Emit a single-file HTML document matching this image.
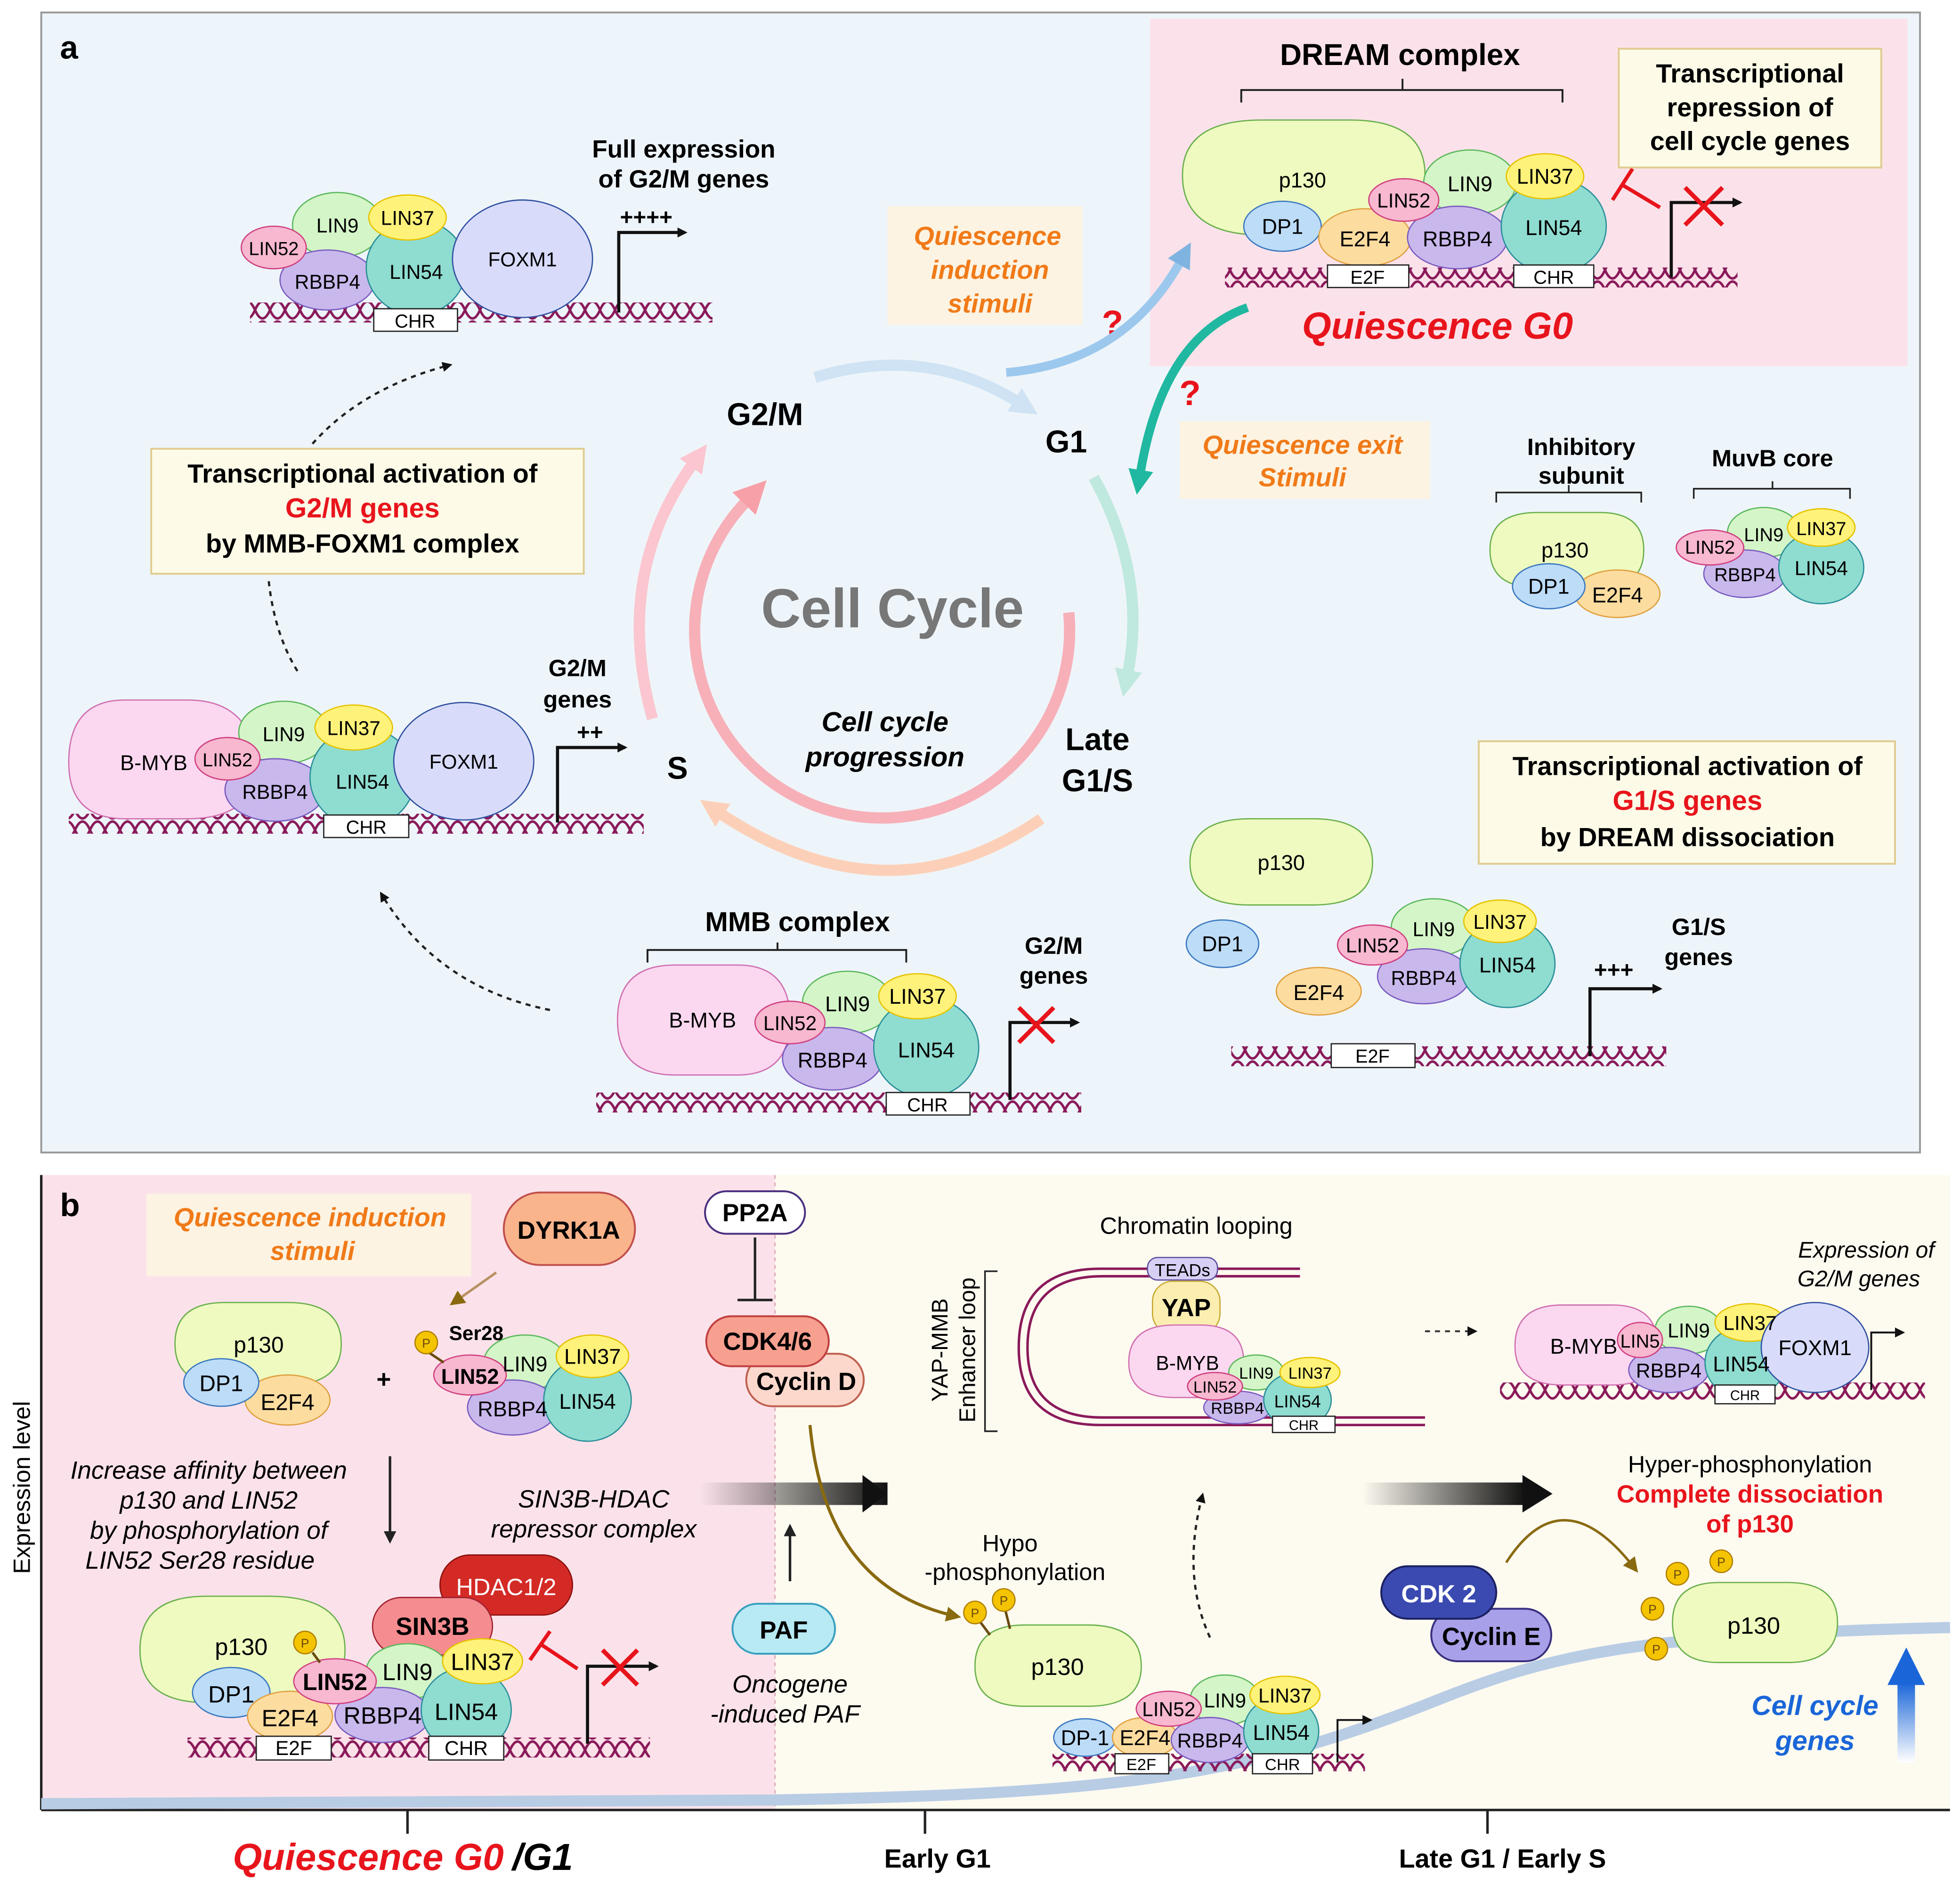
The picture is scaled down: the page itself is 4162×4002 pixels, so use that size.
<!DOCTYPE html>
<html><head><meta charset="utf-8">
<style>
html,body{margin:0;padding:0;background:#fff;}
svg{display:block;}
text{font-family:"Liberation Sans",Arial,sans-serif;}
</style></head>
<body>
<svg width="4162" height="4002" viewBox="0 0 1568 1508" xmlns="http://www.w3.org/2000/svg" preserveAspectRatio="none">
<defs>
<marker id="ah" markerWidth="8" markerHeight="8" refX="6" refY="4" orient="auto" markerUnits="userSpaceOnUse"><path d="M0,0 L8,4 L0,8 z" fill="#111"/></marker>
<marker id="ahs" markerWidth="10" markerHeight="10" refX="7" refY="5" orient="auto" markerUnits="userSpaceOnUse"><path d="M0,0 L10,5 L0,10 z" fill="#222"/></marker>
<marker id="ahb" markerWidth="20" markerHeight="20" refX="4" refY="10" orient="auto" markerUnits="userSpaceOnUse"><path d="M0,0 L20,10 L0,20 z" fill="#7fb3e0"/></marker>
<marker id="aht" markerWidth="20" markerHeight="20" refX="4" refY="10" orient="auto" markerUnits="userSpaceOnUse"><path d="M0,0 L20,10 L0,20 z" fill="#20b8a0"/></marker>
<marker id="ahbr" markerWidth="12" markerHeight="12" refX="8" refY="6" orient="auto" markerUnits="userSpaceOnUse"><path d="M0,0 L12,6 L0,12 z" fill="#8a6a10"/></marker>
<marker id="ahc1" markerWidth="22" markerHeight="22" refX="4" refY="11" orient="auto" markerUnits="userSpaceOnUse"><path d="M0,0 L22,11 L0,22 z" fill="#cfe3f4"/></marker>
<marker id="ahc2" markerWidth="22" markerHeight="22" refX="4" refY="11" orient="auto" markerUnits="userSpaceOnUse"><path d="M0,0 L22,11 L0,22 z" fill="#bfe8df"/></marker>
<marker id="ahc3" markerWidth="22" markerHeight="22" refX="4" refY="11" orient="auto" markerUnits="userSpaceOnUse"><path d="M0,0 L22,11 L0,22 z" fill="#fcd0b8"/></marker>
<marker id="ahc4" markerWidth="22" markerHeight="22" refX="4" refY="11" orient="auto" markerUnits="userSpaceOnUse"><path d="M0,0 L22,11 L0,22 z" fill="#fbc6cf"/></marker>
<marker id="ahc5" markerWidth="26" markerHeight="26" refX="4" refY="13" orient="auto" markerUnits="userSpaceOnUse"><path d="M0,0 L26,13 L0,26 z" fill="#f7a0a8"/></marker>
<linearGradient id="blk" x1="0" x2="1"><stop offset="0" stop-color="#111" stop-opacity="0"/><stop offset="1" stop-color="#111"/></linearGradient>
<linearGradient id="upb" x1="0" y1="1" x2="0" y2="0"><stop offset="0" stop-color="#fff"/><stop offset="1" stop-color="#1a66d8"/></linearGradient>
<pattern id="dna" width="24" height="16" patternUnits="userSpaceOnUse">
<path d="M0,8 C4,-1 8,-1 12,8 S20,17 24,8" fill="none" stroke="#8a1a5a" stroke-width="2"/>
<path d="M0,8 C4,17 8,17 12,8 S20,-1 24,8" fill="none" stroke="#8a1a5a" stroke-width="2"/>
</pattern>
</defs>

<!-- PANEL A -->
<rect x="33" y="10" width="1503" height="912" fill="#eef5fa" stroke="#999" stroke-width="1.5"/>
<rect x="920" y="15" width="606" height="278" fill="#fbe2ea"/>
<text x="48" y="47" font-size="26" font-weight="bold">a</text>

<rect x="200" y="242" width="370" height="16" fill="url(#dna)"/>
<ellipse cx="270" cy="180" rx="36" ry="26" fill="#d4f5c8" stroke="#5cb85c"/>
<ellipse cx="262" cy="224" rx="38" ry="24" fill="#c9b8ec" stroke="#7a5cc0"/>
<ellipse cx="219" cy="198" rx="26" ry="17" fill="#f7b8d0" stroke="#d04080"/>
<ellipse cx="333" cy="214" rx="40" ry="38" fill="#8fdcd0" stroke="#2a8f9a"/>
<ellipse cx="326" cy="174" rx="31" ry="18" fill="#fff27a" stroke="#e6c200"/>
<ellipse cx="418" cy="207" rx="56" ry="47" fill="#d8dcfa" stroke="#3050a0"/>
<text x="270" y="186" font-size="16" text-anchor="middle">LIN9</text>
<text x="262" y="231" font-size="16" text-anchor="middle">RBBP4</text>
<text x="219" y="204" font-size="15" text-anchor="middle">LIN52</text>
<text x="333" y="223" font-size="16" text-anchor="middle">LIN54</text>
<text x="326" y="180" font-size="16" text-anchor="middle">LIN37</text>
<text x="418" y="213" font-size="16" text-anchor="middle">FOXM1</text>
<rect x="299" y="247" width="67" height="18" fill="#fff" stroke="#222"/>
<text x="332" y="262" font-size="15" text-anchor="middle">CHR</text>
<path d="M495,250 V186 H548" fill="none" stroke="#111" stroke-width="2.5" marker-end="url(#ah)"/>
<text x="517" y="180" font-size="18" font-weight="bold" text-anchor="middle">++++</text>
<text x="547" y="126" font-size="20" font-weight="bold" text-anchor="middle">Full expression</text>
<text x="547" y="150" font-size="20" font-weight="bold" text-anchor="middle">of G2/M genes</text>

<path d="M250,355 Q290,310 360,292" fill="none" stroke="#222" stroke-width="1.8" stroke-dasharray="4,4" marker-end="url(#ah)"/>
<rect x="121" y="359" width="346" height="100" fill="#fdfbe8" stroke="#e0cc90" stroke-width="1.5"/>
<text x="290" y="386" font-size="21" font-weight="bold" text-anchor="middle">Transcriptional activation of</text>
<text x="290" y="414" font-size="22" font-weight="bold" text-anchor="middle" fill="#e8141c">G2/M genes</text>
<text x="290" y="442" font-size="21" font-weight="bold" text-anchor="middle">by MMB-FOXM1 complex</text>
<path d="M215,465 Q220,510 240,540" fill="none" stroke="#222" stroke-width="1.8" stroke-dasharray="4,4"/>

<rect x="55" y="651" width="460" height="16" fill="url(#dna)"/>
<path d="M100,560 H150 Q200,560 205,610 Q205,655 150,655 H100 Q55,655 55,610 Q55,560 100,560 z" fill="#fbd8f0" stroke="#d070b0"/>
<text x="123" y="616" font-size="17" text-anchor="middle">B-MYB</text>
<ellipse cx="227" cy="586" rx="36" ry="25" fill="#d4f5c8" stroke="#5cb85c"/>
<ellipse cx="220" cy="632" rx="40" ry="25" fill="#c9b8ec" stroke="#7a5cc0"/>
<ellipse cx="182" cy="607" rx="26" ry="17" fill="#f7b8d0" stroke="#d04080"/>
<ellipse cx="290" cy="622" rx="42" ry="40" fill="#8fdcd0" stroke="#2a8f9a"/>
<ellipse cx="283" cy="582" rx="31" ry="18" fill="#fff27a" stroke="#e6c200"/>
<ellipse cx="371" cy="609" rx="56" ry="47" fill="#d8dcfa" stroke="#3050a0"/>
<text x="227" y="593" font-size="16" text-anchor="middle">LIN9</text>
<text x="220" y="639" font-size="16" text-anchor="middle">RBBP4</text>
<text x="182" y="613" font-size="15" text-anchor="middle">LIN52</text>
<text x="290" y="631" font-size="16" text-anchor="middle">LIN54</text>
<text x="283" y="588" font-size="16" text-anchor="middle">LIN37</text>
<text x="371" y="615" font-size="16" text-anchor="middle">FOXM1</text>
<rect x="259" y="652" width="68" height="18" fill="#fff" stroke="#222"/>
<text x="293" y="667" font-size="15" text-anchor="middle">CHR</text>
<path d="M446,658 V598 H500" fill="none" stroke="#111" stroke-width="2.5" marker-end="url(#ah)"/>
<text x="472" y="592" font-size="18" font-weight="bold" text-anchor="middle">++</text>
<text x="462" y="541" font-size="19" font-weight="bold" text-anchor="middle">G2/M</text>
<text x="462" y="566" font-size="19" font-weight="bold" text-anchor="middle">genes</text>

<path d="M440,808 Q350,790 305,715" fill="none" stroke="#222" stroke-width="1.8" stroke-dasharray="4,4" marker-end="url(#ah)"/>

<path d="M652,302 Q740,275 815,322" fill="none" stroke="#cfe3f4" stroke-width="9" marker-end="url(#ahc1)"/>
<path d="M875,382 Q918,460 902,540" fill="none" stroke="#bfe8df" stroke-width="9" marker-end="url(#ahc2)"/>
<path d="M833,655 Q710,740 575,650" fill="none" stroke="#fcd0b8" stroke-width="9" marker-end="url(#ahc3)"/>
<path d="M522,575 Q490,460 555,370" fill="none" stroke="#fbc6cf" stroke-width="9" marker-end="url(#ahc4)"/>
<path d="M855,490 A150,150 0 1 1 598,400" fill="none" stroke="#f7b0b8" stroke-width="9" marker-end="url(#ahc5)"/>
<text x="714" y="502" font-size="44" font-weight="bold" fill="#777" text-anchor="middle">Cell Cycle</text>
<text x="708" y="585" font-size="22" font-weight="bold" font-style="italic" text-anchor="middle">Cell cycle</text>
<text x="708" y="613" font-size="22" font-weight="bold" font-style="italic" text-anchor="middle">progression</text>
<text x="612" y="340" font-size="25" font-weight="bold" text-anchor="middle">G2/M</text>
<text x="853" y="362" font-size="25" font-weight="bold" text-anchor="middle">G1</text>
<text x="878" y="600" font-size="25" font-weight="bold" text-anchor="middle">Late</text>
<text x="878" y="633" font-size="25" font-weight="bold" text-anchor="middle">G1/S</text>
<text x="542" y="623" font-size="25" font-weight="bold" text-anchor="middle">S</text>

<rect x="710" y="165" width="156" height="95" fill="#fdf3e2"/>
<text x="790" y="196" font-size="21" font-weight="bold" font-style="italic" fill="#f07a18" text-anchor="middle">Quiescence</text>
<text x="792" y="223" font-size="21" font-weight="bold" font-style="italic" fill="#f07a18" text-anchor="middle">induction</text>
<text x="792" y="250" font-size="21" font-weight="bold" font-style="italic" fill="#f07a18" text-anchor="middle">stimuli</text>
<text x="890" y="268" font-size="28" font-weight="bold" fill="#e8141c" text-anchor="middle">?</text>
<path d="M805,298 Q900,290 945,208" fill="none" stroke="#9cc8ee" stroke-width="7" marker-end="url(#ahb)"/>
<path d="M998,246 Q930,270 912,380" fill="none" stroke="#20b8a0" stroke-width="7" marker-end="url(#aht)"/>
<text x="952" y="324" font-size="28" font-weight="bold" fill="#e8141c" text-anchor="middle">?</text>
<rect x="944" y="337" width="200" height="62" fill="#fdf3e2"/>
<text x="1042" y="363" font-size="21" font-weight="bold" font-style="italic" fill="#f07a18" text-anchor="middle">Quiescence exit</text>
<text x="1042" y="389" font-size="21" font-weight="bold" font-style="italic" fill="#f07a18" text-anchor="middle">Stimuli</text>

<text x="1120" y="52" font-size="24" font-weight="bold" text-anchor="middle">DREAM complex</text>
<path d="M993,82 V72 H1250 V82 M1122,72 V63" fill="none" stroke="#222" stroke-width="1.5"/>
<rect x="980" y="214" width="410" height="16" fill="url(#dna)"/>
<path d="M1010,96 H1080 Q1140,96 1140,140 Q1140,188 1080,188 H1010 Q946,188 946,140 Q946,96 1010,96 z" fill="#eefac0" stroke="#6ab04c"/>
<text x="1042" y="150" font-size="17" text-anchor="middle">p130</text>
<ellipse cx="1026" cy="181" rx="31" ry="20" fill="#bcdcf8" stroke="#3a78c0"/>
<text x="1026" y="187" font-size="17" text-anchor="middle">DP1</text>
<ellipse cx="1092" cy="190" rx="37" ry="23" fill="#fddca0" stroke="#e0a040"/>
<text x="1092" y="197" font-size="17" text-anchor="middle">E2F4</text>
<ellipse cx="1176" cy="146" rx="37" ry="26" fill="#d4f5c8" stroke="#5cb85c"/>
<ellipse cx="1166" cy="190" rx="40" ry="25" fill="#c9b8ec" stroke="#7a5cc0"/>
<ellipse cx="1123" cy="160" rx="28" ry="17" fill="#f7b8d0" stroke="#d04080"/>
<ellipse cx="1243" cy="181" rx="42" ry="38" fill="#8fdcd0" stroke="#2a8f9a"/>
<ellipse cx="1236" cy="141" rx="31" ry="18" fill="#fff27a" stroke="#e6c200"/>
<text x="1176" y="153" font-size="17" text-anchor="middle">LIN9</text>
<text x="1166" y="197" font-size="17" text-anchor="middle">RBBP4</text>
<text x="1123" y="166" font-size="16" text-anchor="middle">LIN52</text>
<text x="1243" y="188" font-size="17" text-anchor="middle">LIN54</text>
<text x="1236" y="147" font-size="17" text-anchor="middle">LIN37</text>
<rect x="1062" y="212" width="65" height="18" fill="#fff" stroke="#222"/>
<text x="1094" y="227" font-size="15" text-anchor="middle">E2F</text>
<rect x="1211" y="212" width="64" height="18" fill="#fff" stroke="#222"/>
<text x="1243" y="227" font-size="15" text-anchor="middle">CHR</text>
<path d="M1337,222 V162 H1392" fill="none" stroke="#111" stroke-width="2.5" marker-end="url(#ah)"/>
<path d="M1298,148 L1328,166 M1290,160 L1306,135" fill="none" stroke="#e8141c" stroke-width="3"/>
<path d="M1348,150 L1378,180 M1378,150 L1348,180" stroke="#e8141c" stroke-width="3.5"/>
<rect x="1295" y="39" width="210" height="95" fill="#fdfbe8" stroke="#e0cc90" stroke-width="1.5"/>
<text x="1400" y="66" font-size="21" font-weight="bold" text-anchor="middle">Transcriptional</text>
<text x="1400" y="93" font-size="21" font-weight="bold" text-anchor="middle">repression of</text>
<text x="1400" y="120" font-size="21" font-weight="bold" text-anchor="middle">cell cycle genes</text>
<text x="1150" y="271" font-size="30" font-weight="bold" font-style="italic" fill="#e8141c" text-anchor="middle">Quiescence G0</text>

<text x="1265" y="364" font-size="19" font-weight="bold" text-anchor="middle">Inhibitory</text>
<text x="1265" y="387" font-size="19" font-weight="bold" text-anchor="middle">subunit</text>
<path d="M1197,402 V394 H1313 V402 M1255,394 V388" fill="none" stroke="#222" stroke-width="1.3"/>
<path d="M1230,410 H1280 Q1315,410 1315,440 Q1315,470 1280,470 H1230 Q1192,470 1192,440 Q1192,410 1230,410 z" fill="#eefac0" stroke="#6ab04c"/>
<text x="1252" y="446" font-size="17" text-anchor="middle">p130</text>
<ellipse cx="1294" cy="475" rx="34" ry="19" fill="#fddca0" stroke="#e0a040"/>
<text x="1294" y="482" font-size="17" text-anchor="middle">E2F4</text>
<ellipse cx="1239" cy="469" rx="29" ry="18" fill="#bcdcf8" stroke="#3a78c0"/>
<text x="1239" y="475" font-size="17" text-anchor="middle">DP1</text>
<text x="1418" y="373" font-size="19" font-weight="bold" text-anchor="middle">MuvB core</text>
<path d="M1355,399 V391 H1480 V399 M1418,391 V385" fill="none" stroke="#222" stroke-width="1.3"/>
<ellipse cx="1411" cy="426" rx="29" ry="20" fill="#d4f5c8" stroke="#5cb85c"/>
<ellipse cx="1396" cy="459" rx="33" ry="19" fill="#c9b8ec" stroke="#7a5cc0"/>
<ellipse cx="1368" cy="438" rx="27" ry="14" fill="#f7b8d0" stroke="#d04080"/>
<ellipse cx="1457" cy="454" rx="34" ry="29" fill="#8fdcd0" stroke="#2a8f9a"/>
<ellipse cx="1457" cy="422" rx="27" ry="15" fill="#fff27a" stroke="#e6c200"/>
<text x="1411" y="433" font-size="15" text-anchor="middle">LIN9</text>
<text x="1396" y="465" font-size="15" text-anchor="middle">RBBP4</text>
<text x="1368" y="443" font-size="15" text-anchor="middle">LIN52</text>
<text x="1457" y="460" font-size="16" text-anchor="middle">LIN54</text>
<text x="1457" y="428" font-size="15" text-anchor="middle">LIN37</text>

<rect x="1183" y="593" width="333" height="98" fill="#fdfbe8" stroke="#e0cc90" stroke-width="1.5"/>
<text x="1350" y="620" font-size="21" font-weight="bold" text-anchor="middle">Transcriptional activation of</text>
<text x="1350" y="648" font-size="22" font-weight="bold" text-anchor="middle" fill="#e8141c">G1/S genes</text>
<text x="1350" y="677" font-size="21" font-weight="bold" text-anchor="middle">by DREAM dissociation</text>

<path d="M1000,655 H1050 Q1098,655 1098,690 Q1098,724 1050,724 H1000 Q952,724 952,690 Q952,655 1000,655 z" fill="#eefac0" stroke="#6ab04c"/>
<text x="1025" y="696" font-size="17" text-anchor="middle">p130</text>
<ellipse cx="978" cy="755" rx="29" ry="19" fill="#bcdcf8" stroke="#3a78c0"/>
<text x="978" y="761" font-size="17" text-anchor="middle">DP1</text>
<ellipse cx="1055" cy="793" rx="34" ry="19" fill="#fddca0" stroke="#e0a040"/>
<text x="1055" y="800" font-size="17" text-anchor="middle">E2F4</text>
<rect x="985" y="837" width="348" height="16" fill="url(#dna)"/>
<ellipse cx="1147" cy="742" rx="34" ry="23" fill="#d4f5c8" stroke="#5cb85c"/>
<ellipse cx="1139" cy="781" rx="37" ry="22" fill="#c9b8ec" stroke="#7a5cc0"/>
<ellipse cx="1098" cy="756" rx="28" ry="16" fill="#f7b8d0" stroke="#d04080"/>
<ellipse cx="1206" cy="771" rx="38" ry="35" fill="#8fdcd0" stroke="#2a8f9a"/>
<ellipse cx="1200" cy="737" rx="29" ry="17" fill="#fff27a" stroke="#e6c200"/>
<text x="1147" y="749" font-size="16" text-anchor="middle">LIN9</text>
<text x="1139" y="788" font-size="16" text-anchor="middle">RBBP4</text>
<text x="1098" y="762" font-size="16" text-anchor="middle">LIN52</text>
<text x="1206" y="778" font-size="17" text-anchor="middle">LIN54</text>
<text x="1200" y="743" font-size="16" text-anchor="middle">LIN37</text>
<rect x="1065" y="835" width="67" height="19" fill="#fff" stroke="#222"/>
<text x="1098" y="850" font-size="15" text-anchor="middle">E2F</text>
<path d="M1272,845 V791 H1328" fill="none" stroke="#111" stroke-width="2.5" marker-end="url(#ah)"/>
<text x="1291" y="782" font-size="18" font-weight="bold" text-anchor="middle">+++</text>
<text x="1359" y="748" font-size="19" font-weight="bold" text-anchor="middle">G1/S</text>
<text x="1359" y="772" font-size="19" font-weight="bold" text-anchor="middle">genes</text>

<text x="638" y="745" font-size="22" font-weight="bold" text-anchor="middle">MMB complex</text>
<path d="M518,770 V760 H725 V770 M622,760 V754" fill="none" stroke="#222" stroke-width="1.5"/>
<rect x="477" y="874" width="388" height="16" fill="url(#dna)"/>
<path d="M540,772 H590 Q632,772 632,816 Q632,860 590,860 H540 Q494,860 494,816 Q494,772 540,772 z" fill="#fbd8f0" stroke="#d070b0"/>
<text x="562" y="822" font-size="17" text-anchor="middle">B-MYB</text>
<ellipse cx="678" cy="802" rx="36" ry="25" fill="#d4f5c8" stroke="#5cb85c"/>
<ellipse cx="666" cy="847" rx="40" ry="25" fill="#c9b8ec" stroke="#7a5cc0"/>
<ellipse cx="632" cy="818" rx="28" ry="17" fill="#f7b8d0" stroke="#d04080"/>
<ellipse cx="741" cy="838" rx="42" ry="40" fill="#8fdcd0" stroke="#2a8f9a"/>
<ellipse cx="734" cy="797" rx="31" ry="18" fill="#fff27a" stroke="#e6c200"/>
<text x="678" y="809" font-size="17" text-anchor="middle">LIN9</text>
<text x="666" y="854" font-size="17" text-anchor="middle">RBBP4</text>
<text x="632" y="824" font-size="16" text-anchor="middle">LIN52</text>
<text x="741" y="846" font-size="17" text-anchor="middle">LIN54</text>
<text x="734" y="803" font-size="17" text-anchor="middle">LIN37</text>
<rect x="709" y="874" width="67" height="18" fill="#fff" stroke="#222"/>
<text x="742" y="889" font-size="15" text-anchor="middle">CHR</text>
<path d="M808,880 V818 H862" fill="none" stroke="#111" stroke-width="2.5" marker-end="url(#ah)"/>
<path d="M815,806 L843,834 M843,806 L815,834" stroke="#e8141c" stroke-width="3.5"/>
<text x="843" y="763" font-size="19" font-weight="bold" text-anchor="middle">G2/M</text>
<text x="843" y="787" font-size="19" font-weight="bold" text-anchor="middle">genes</text>

<!-- PANEL B -->
<rect x="33" y="940" width="587" height="508" fill="#fbe2ea"/>
<rect x="620" y="940" width="940" height="508" fill="#fdfaf0"/>
<line x1="620" y1="940" x2="620" y2="1445" stroke="#d9a8b8" stroke-width="1" stroke-dasharray="3,3"/>
<line x1="33" y1="940" x2="33" y2="1448" stroke="#222" stroke-width="2"/>
<line x1="33" y1="1448" x2="1560" y2="1448" stroke="#222" stroke-width="2"/>
<path d="M33,1443 L620,1440 C900,1435 1000,1420 1150,1360 C1250,1320 1320,1308 1560,1302" fill="none" stroke="#b8cce4" stroke-width="9"/>
<line x1="326" y1="1448" x2="326" y2="1467" stroke="#222" stroke-width="2"/>
<line x1="740" y1="1448" x2="740" y2="1467" stroke="#222" stroke-width="2"/>
<line x1="1190" y1="1448" x2="1190" y2="1467" stroke="#222" stroke-width="2"/>
<text x="403" y="1496" font-size="30" font-weight="bold" font-style="italic" fill="#e8141c" text-anchor="end">Quiescence G0</text>
<text x="410" y="1496" font-size="30" font-weight="bold" font-style="italic">/G1</text>
<text x="750" y="1494" font-size="21" font-weight="bold" text-anchor="middle">Early G1</text>
<text x="1202" y="1494" font-size="21" font-weight="bold" text-anchor="middle">Late G1 / Early S</text>
<text x="24" y="1190" font-size="19" text-anchor="middle" transform="rotate(-90 24 1190)">Expression level</text>
<text x="48" y="973" font-size="26" font-weight="bold">b</text>

<rect x="117" y="955" width="260" height="66" fill="#fdf3e2"/>
<text x="248" y="981" font-size="21" font-weight="bold" font-style="italic" fill="#f07a18" text-anchor="middle">Quiescence induction</text>
<text x="250" y="1008" font-size="21" font-weight="bold" font-style="italic" fill="#f07a18" text-anchor="middle">stimuli</text>
<rect x="403" y="954" width="105" height="58" rx="29" fill="#f9b48c" stroke="#c0504d" stroke-width="1.5"/>
<text x="455" y="991" font-size="20" font-weight="bold" text-anchor="middle">DYRK1A</text>
<path d="M397,1018 L363,1042" stroke="#b89060" stroke-width="2" marker-end="url(#ahbr)"/>

<path d="M180,1042 H230 Q273,1042 273,1075 Q273,1108 230,1108 H180 Q140,1108 140,1075 Q140,1042 180,1042 z" fill="#eefac0" stroke="#6ab04c"/>
<text x="207" y="1082" font-size="18" text-anchor="middle">p130</text>
<ellipse cx="230" cy="1120" rx="34" ry="20" fill="#fddca0" stroke="#e0a040"/>
<text x="230" y="1128" font-size="18" text-anchor="middle">E2F4</text>
<ellipse cx="177" cy="1106" rx="30" ry="19" fill="#bcdcf8" stroke="#3a78c0"/>
<text x="177" y="1113" font-size="18" text-anchor="middle">DP1</text>
<text x="307" y="1110" font-size="20" font-weight="bold" text-anchor="middle">+</text>
<ellipse cx="420" cy="1090" rx="33" ry="22" fill="#d4f5c8" stroke="#5cb85c"/>
<ellipse cx="410" cy="1126" rx="36" ry="22" fill="#c9b8ec" stroke="#7a5cc0"/>
<ellipse cx="376" cy="1100" rx="29" ry="16" fill="#f7b8d0" stroke="#d04080"/>
<ellipse cx="470" cy="1120" rx="35" ry="33" fill="#8fdcd0" stroke="#2a8f9a"/>
<ellipse cx="474" cy="1085" rx="29" ry="17" fill="#fff27a" stroke="#e6c200"/>
<text x="420" y="1097" font-size="17" text-anchor="middle">LIN9</text>
<text x="410" y="1133" font-size="17" text-anchor="middle">RBBP4</text>
<text x="376" y="1107" font-size="17" font-weight="bold" text-anchor="middle">LIN52</text>
<text x="470" y="1127" font-size="17" text-anchor="middle">LIN54</text>
<text x="474" y="1091" font-size="17" text-anchor="middle">LIN37</text>
<line x1="343" y1="1082" x2="355" y2="1090" stroke="#6a4a10" stroke-width="2"/>
<circle cx="341" cy="1074" r="9" fill="#f5c400" stroke="#b08000"/>
<text x="341" y="1078" font-size="10" text-anchor="middle" fill="#6a4a10">P</text>
<text x="381" y="1072" font-size="16" font-weight="bold" text-anchor="middle">Ser28</text>

<text x="167" y="1183" font-size="20" font-style="italic" text-anchor="middle">Increase affinity between</text>
<text x="167" y="1207" font-size="20" font-style="italic" text-anchor="middle">p130 and LIN52</text>
<text x="167" y="1231" font-size="20" font-style="italic" text-anchor="middle">by phosphorylation of</text>
<text x="160" y="1255" font-size="20" font-style="italic" text-anchor="middle">LIN52 Ser28 residue</text>
<path d="M312,1165 V1232" stroke="#222" stroke-width="2" marker-end="url(#ahs)"/>
<text x="475" y="1206" font-size="20" font-style="italic" text-anchor="middle">SIN3B-HDAC</text>
<text x="475" y="1230" font-size="20" font-style="italic" text-anchor="middle">repressor complex</text>

<rect x="150" y="1390" width="370" height="16" fill="url(#dna)"/>
<path d="M165,1277 H215 Q276,1277 276,1320 Q276,1362 215,1362 H165 Q112,1362 112,1320 Q112,1277 165,1277 z" fill="#eefac0" stroke="#6ab04c"/>
<text x="193" y="1324" font-size="19" text-anchor="middle">p130</text>
<ellipse cx="185" cy="1354" rx="31" ry="20" fill="#bcdcf8" stroke="#3a78c0"/>
<text x="185" y="1362" font-size="19" text-anchor="middle">DP1</text>
<ellipse cx="232" cy="1373" rx="34" ry="20" fill="#fddca0" stroke="#e0a040"/>
<text x="232" y="1381" font-size="19" text-anchor="middle">E2F4</text>
<rect x="352" y="1244" width="106" height="48" rx="24" fill="#d42a26" stroke="#8a1010"/>
<text x="405" y="1276" font-size="19" fill="#fff" text-anchor="middle">HDAC1/2</text>
<rect x="298" y="1278" width="96" height="46" rx="23" fill="#f48c90" stroke="#a02030"/>
<text x="346" y="1308" font-size="20" font-weight="bold" text-anchor="middle">SIN3B</text>
<ellipse cx="326" cy="1337" rx="33" ry="22" fill="#d4f5c8" stroke="#5cb85c"/>
<ellipse cx="306" cy="1372" rx="38" ry="22" fill="#c9b8ec" stroke="#7a5cc0"/>
<ellipse cx="268" cy="1345" rx="33" ry="18" fill="#f7b8d0" stroke="#d04080"/>
<ellipse cx="373" cy="1368" rx="36" ry="34" fill="#8fdcd0" stroke="#2a8f9a"/>
<ellipse cx="386" cy="1329" rx="32" ry="18" fill="#fff27a" stroke="#e6c200"/>
<text x="326" y="1344" font-size="19" text-anchor="middle">LIN9</text>
<text x="306" y="1379" font-size="19" text-anchor="middle">RBBP4</text>
<text x="268" y="1352" font-size="19" font-weight="bold" text-anchor="middle">LIN52</text>
<text x="373" y="1376" font-size="19" text-anchor="middle">LIN54</text>
<text x="386" y="1336" font-size="19" text-anchor="middle">LIN37</text>
<circle cx="244" cy="1314" r="9" fill="#f5c400" stroke="#b08000"/>
<text x="244" y="1318" font-size="10" text-anchor="middle" fill="#6a4a10">P</text>
<line x1="250" y1="1322" x2="256" y2="1330" stroke="#6a4a10" stroke-width="2"/>
<rect x="205" y="1389" width="60" height="19" fill="#fff" stroke="#222"/>
<text x="235" y="1404" font-size="16" text-anchor="middle">E2F</text>
<rect x="343" y="1389" width="60" height="19" fill="#fff" stroke="#222"/>
<text x="373" y="1404" font-size="16" text-anchor="middle">CHR</text>
<path d="M470,1395 V1333 H525" fill="none" stroke="#111" stroke-width="2.5" marker-end="url(#ah)"/>
<path d="M432,1315 L462,1335 M424,1328 L440,1305" fill="none" stroke="#e8141c" stroke-width="3"/>
<path d="M482,1320 L510,1348 M510,1320 L482,1348" stroke="#e8141c" stroke-width="3.5"/>

<rect x="564" y="953" width="80" height="34" rx="17" fill="#fff" stroke="#4a3080" stroke-width="1.5"/>
<text x="604" y="977" font-size="20" font-weight="bold" text-anchor="middle">PP2A</text>
<path d="M604,990 V1040 M590,1040 H618" fill="none" stroke="#222" stroke-width="2"/>
<rect x="597" y="1083" width="94" height="42" rx="21" fill="#fcd8cc" stroke="#c06050" stroke-width="1.5"/>
<text x="645" y="1112" font-size="20" font-weight="bold" text-anchor="middle">Cyclin D</text>
<rect x="565" y="1053" width="98" height="40" rx="20" fill="#f7a090" stroke="#c04040" stroke-width="1.5"/>
<text x="614" y="1080" font-size="20" font-weight="bold" text-anchor="middle">CDK4/6</text>
<rect x="560" y="1186" width="150" height="18" fill="url(#blk)"/>
<path d="M690,1180 L710,1195 L690,1210 z" fill="#111"/>
<rect x="1090" y="1186" width="130" height="18" fill="url(#blk)"/>
<path d="M1218,1180 L1242,1195 L1218,1210 z" fill="#111"/>
<path d="M632,1265 V1222" stroke="#222" stroke-width="2" marker-end="url(#ahs)"/>
<rect x="586" y="1283" width="82" height="40" rx="20" fill="#b8eaf4" stroke="#3aa0c0" stroke-width="1.5"/>
<text x="627" y="1311" font-size="20" font-weight="bold" text-anchor="middle">PAF</text>
<text x="632" y="1354" font-size="20" font-style="italic" text-anchor="middle">Oncogene</text>
<text x="628" y="1378" font-size="20" font-style="italic" text-anchor="middle">-induced PAF</text>
<path d="M648,1140 Q660,1270 765,1293" fill="none" stroke="#8a6a10" stroke-width="2.5" marker-end="url(#ahbr)"/>

<text x="808" y="1241" font-size="19" text-anchor="middle">Hypo</text>
<text x="812" y="1264" font-size="19" text-anchor="middle">-phosphonylation</text>
<path d="M820,1300 H870 Q913,1300 913,1333 Q913,1365 870,1365 H820 Q780,1365 780,1333 Q780,1300 820,1300 z" fill="#eefac0" stroke="#6ab04c"/>
<text x="846" y="1340" font-size="19" text-anchor="middle">p130</text>
<line x1="783" y1="1296" x2="792" y2="1308" stroke="#6a4a10" stroke-width="2"/>
<line x1="804" y1="1287" x2="808" y2="1303" stroke="#6a4a10" stroke-width="2"/>
<circle cx="780" cy="1290" r="9" fill="#f5c400" stroke="#b08000"/>
<circle cx="803" cy="1280" r="9" fill="#f5c400" stroke="#b08000"/>
<text x="780" y="1294" font-size="10" text-anchor="middle" fill="#6a4a10">P</text>
<text x="803" y="1284" font-size="10" text-anchor="middle" fill="#6a4a10">P</text>
<rect x="842" y="1403" width="250" height="14" fill="url(#dna)"/>
<ellipse cx="868" cy="1390" rx="25" ry="15" fill="#bcdcf8" stroke="#3a78c0"/>
<text x="868" y="1396" font-size="17" text-anchor="middle">DP-1</text>
<ellipse cx="916" cy="1390" rx="26" ry="16" fill="#fddca0" stroke="#e0a040"/>
<text x="916" y="1396" font-size="17" text-anchor="middle">E2F4</text>
<ellipse cx="980" cy="1360" rx="28" ry="20" fill="#d4f5c8" stroke="#5cb85c"/>
<ellipse cx="968" cy="1392" rx="31" ry="18" fill="#c9b8ec" stroke="#7a5cc0"/>
<ellipse cx="935" cy="1367" rx="26" ry="14" fill="#f7b8d0" stroke="#d04080"/>
<ellipse cx="1025" cy="1385" rx="30" ry="28" fill="#8fdcd0" stroke="#2a8f9a"/>
<ellipse cx="1028" cy="1356" rx="28" ry="15" fill="#fff27a" stroke="#e6c200"/>
<text x="980" y="1366" font-size="16" text-anchor="middle">LIN9</text>
<text x="968" y="1398" font-size="16" text-anchor="middle">RBBP4</text>
<text x="935" y="1373" font-size="16" text-anchor="middle">LIN52</text>
<text x="1025" y="1392" font-size="17" text-anchor="middle">LIN54</text>
<text x="1028" y="1362" font-size="16" text-anchor="middle">LIN37</text>
<rect x="892" y="1403" width="43" height="16" fill="#fff" stroke="#222"/>
<text x="913" y="1416" font-size="13" text-anchor="middle">E2F</text>
<rect x="1002" y="1403" width="48" height="16" fill="#fff" stroke="#222"/>
<text x="1026" y="1416" font-size="13" text-anchor="middle">CHR</text>
<path d="M1070,1410 V1376 H1096" fill="none" stroke="#111" stroke-width="1.5" marker-end="url(#ah)"/>
<path d="M968,1310 Q945,1260 962,1196" fill="none" stroke="#222" stroke-width="1.8" stroke-dasharray="4,4" marker-end="url(#ah)"/>

<text x="957" y="987" font-size="19" text-anchor="middle">Chromatin looping</text>
<text x="758" y="1080" font-size="18" text-anchor="middle" transform="rotate(-90 758 1080)">YAP-MMB</text>
<text x="780" y="1080" font-size="18" text-anchor="middle" transform="rotate(-90 780 1080)">Enhancer loop</text>
<path d="M798,1017 H788 V1145 H798" fill="none" stroke="#222" stroke-width="1.3"/>
<path d="M1040,1015 H880 Q815,1015 815,1078 Q815,1140 880,1140 H1140" fill="none" stroke="#8a1a5a" stroke-width="2"/>
<path d="M1040,1021 H882 Q822,1021 822,1078 Q822,1134 882,1134 H1140" fill="none" stroke="#8a1a5a" stroke-width="2"/>
<rect x="918" y="1006" width="56" height="18" rx="8" fill="#d8d0f4" stroke="#6050a0"/>
<text x="946" y="1021" font-size="14" text-anchor="middle">TEADs</text>
<rect x="922" y="1025" width="54" height="42" rx="16" fill="#fbeeb0" stroke="#c8a830"/>
<text x="949" y="1053" font-size="20" font-weight="bold" text-anchor="middle">YAP</text>
<path d="M940,1060 H960 Q995,1060 995,1090 Q995,1118 960,1118 H940 Q903,1118 903,1090 Q903,1060 940,1060 z" fill="#fbd8f0" stroke="#d070b0"/>
<text x="950" y="1096" font-size="16" text-anchor="middle">B-MYB</text>
<ellipse cx="1005" cy="1098" rx="22" ry="14" fill="#d4f5c8" stroke="#5cb85c"/>
<ellipse cx="990" cy="1126" rx="27" ry="13" fill="#c9b8ec" stroke="#7a5cc0"/>
<ellipse cx="972" cy="1109" rx="22" ry="11" fill="#f7b8d0" stroke="#d04080"/>
<ellipse cx="1038" cy="1120" rx="27" ry="22" fill="#8fdcd0" stroke="#2a8f9a"/>
<ellipse cx="1048" cy="1098" rx="24" ry="12" fill="#fff27a" stroke="#e6c200"/>
<text x="1005" y="1103" font-size="13" text-anchor="middle">LIN9</text>
<text x="990" y="1131" font-size="13" text-anchor="middle">RBBP4</text>
<text x="972" y="1114" font-size="13" text-anchor="middle">LIN52</text>
<text x="1038" y="1126" font-size="14" text-anchor="middle">LIN54</text>
<text x="1048" y="1103" font-size="13" text-anchor="middle">LIN37</text>
<rect x="1018" y="1133" width="50" height="13" fill="#fff" stroke="#222"/>
<text x="1043" y="1144" font-size="11" text-anchor="middle">CHR</text>

<path d="M1140,1065 H1180" stroke="#333" stroke-width="1.5" stroke-dasharray="4,4" marker-end="url(#ah)"/>

<text x="1493" y="1006" font-size="18" font-style="italic" text-anchor="middle">Expression of</text>
<text x="1487" y="1029" font-size="18" font-style="italic" text-anchor="middle">G2/M genes</text>
<rect x="1200" y="1106" width="340" height="14" fill="url(#dna)"/>
<path d="M1250,1044 H1290 Q1326,1044 1326,1077 Q1326,1108 1290,1108 H1250 Q1212,1108 1212,1077 Q1212,1044 1250,1044 z" fill="#fbd8f0" stroke="#d070b0"/>
<text x="1267" y="1083" font-size="17" text-anchor="middle">B-MYB</text>
<ellipse cx="1351" cy="1064" rx="27" ry="19" fill="#d4f5c8" stroke="#5cb85c"/>
<ellipse cx="1335" cy="1096" rx="32" ry="18" fill="#c9b8ec" stroke="#7a5cc0"/>
<ellipse cx="1312" cy="1072" rx="18" ry="14" fill="#f7b8d0" stroke="#d04080"/>
<ellipse cx="1396" cy="1090" rx="32" ry="29" fill="#8fdcd0" stroke="#2a8f9a"/>
<ellipse cx="1400" cy="1058" rx="28" ry="15" fill="#fff27a" stroke="#e6c200"/>
<ellipse cx="1452" cy="1078" rx="43" ry="36" fill="#d8dcfa" stroke="#3050a0"/>
<text x="1351" y="1070" font-size="16" text-anchor="middle">LIN9</text>
<text x="1335" y="1102" font-size="16" text-anchor="middle">RBBP4</text>
<text x="1312" y="1078" font-size="15" text-anchor="middle">LIN5</text>
<text x="1393" y="1097" font-size="17" text-anchor="middle">LIN54</text>
<text x="1400" y="1064" font-size="16" text-anchor="middle">LIN37</text>
<text x="1452" y="1084" font-size="17" text-anchor="middle">FOXM1</text>
<rect x="1372" y="1108" width="48" height="15" fill="#fff" stroke="#222"/>
<text x="1396" y="1120" font-size="11" text-anchor="middle">CHR</text>
<path d="M1497,1112 V1066 H1522" fill="none" stroke="#111" stroke-width="1.5" marker-end="url(#ah)"/>

<text x="1400" y="1178" font-size="19" text-anchor="middle">Hyper-phosphonylation</text>
<text x="1400" y="1202" font-size="20" font-weight="bold" fill="#e8141c" text-anchor="middle">Complete dissociation</text>
<text x="1400" y="1226" font-size="20" font-weight="bold" fill="#e8141c" text-anchor="middle">of p130</text>
<rect x="1145" y="1287" width="96" height="42" rx="21" fill="#a8a0e8" stroke="#3a3080" stroke-width="1.5"/>
<text x="1193" y="1316" font-size="20" font-weight="bold" text-anchor="middle">Cyclin E</text>
<rect x="1105" y="1253" width="92" height="42" rx="21" fill="#3a4ab0" stroke="#1a2060" stroke-width="1.5"/>
<text x="1151" y="1282" font-size="20" font-weight="bold" fill="#fff" text-anchor="middle">CDK 2</text>
<path d="M1205,1250 Q1250,1180 1308,1255" fill="none" stroke="#8a6a10" stroke-width="2" marker-end="url(#ahbr)"/>
<path d="M1375,1266 H1430 Q1470,1266 1470,1298 Q1470,1330 1430,1330 H1375 Q1338,1330 1338,1298 Q1338,1266 1375,1266 z" fill="#eefac0" stroke="#6ab04c"/>
<text x="1403" y="1307" font-size="19" text-anchor="middle">p130</text>
<circle cx="1342" cy="1259" r="9" fill="#f5c400" stroke="#b08000"/>
<circle cx="1377" cy="1249" r="9" fill="#f5c400" stroke="#b08000"/>
<circle cx="1322" cy="1287" r="9" fill="#f5c400" stroke="#b08000"/>
<circle cx="1325" cy="1319" r="9" fill="#f5c400" stroke="#b08000"/>
<text x="1342" y="1263" font-size="10" text-anchor="middle" fill="#6a4a10">P</text>
<text x="1377" y="1253" font-size="10" text-anchor="middle" fill="#6a4a10">P</text>
<text x="1322" y="1291" font-size="10" text-anchor="middle" fill="#6a4a10">P</text>
<text x="1325" y="1323" font-size="10" text-anchor="middle" fill="#6a4a10">P</text>
<text x="1452" y="1372" font-size="22" font-weight="bold" font-style="italic" fill="#1a66d8" text-anchor="middle">Cell cycle</text>
<text x="1452" y="1400" font-size="22" font-weight="bold" font-style="italic" fill="#1a66d8" text-anchor="middle">genes</text>
<rect x="1518" y="1346" width="14" height="64" fill="url(#upb)"/>
<path d="M1510,1348 L1525,1318 L1540,1348 z" fill="#1a66d8"/>
</svg>
</body></html>
